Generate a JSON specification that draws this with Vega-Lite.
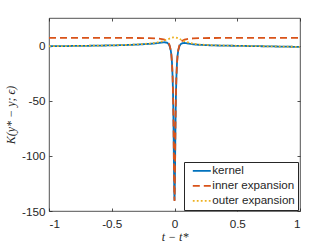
{
  "$schema": "https://vega.github.io/schema/vega-lite/v6.json",
  "width": 251,
  "height": 193,
  "autosize": {"type": "none"},
  "padding": {"left": 49, "top": 18, "right": 32, "bottom": 38},
  "background": "white",
  "config": {
    "font": "Liberation Sans",
    "view": {"stroke": "#262626", "strokeWidth": 0.8},
    "axis": {
      "domain": false,
      "grid": false,
      "tickColor": "#262626",
      "tickSize": -3,
      "tickWidth": 0.8,
      "labelColor": "#262626",
      "labelFontSize": 11.7,
      "labelFont": "Liberation Sans",
      "titleFont": "Liberation Serif",
      "titleFontStyle": "italic",
      "titleFontWeight": "normal",
      "titleFontSize": 12,
      "titleColor": "#262626"
    },
    "legend": {
      "orient": "none",
      "legendX": 135,
      "legendY": 144,
      "strokeColor": "#262626",
      "fillColor": "white",
      "padding": 3,
      "rowPadding": 2,
      "labelFontSize": 11.6,
      "labelColor": "#262626",
      "labelFont": "Liberation Sans",
      "symbolType": "M0,0H6",
      "symbolSize": 36,
      "symbolStrokeWidth": 1.8,
      "labelOffset": 13.7,
      "title": null
    }
  },
  "data": {
    "values": [
      {"t": -1, "y": -0.61, "s": "kernel"},
      {"t": -0.9, "y": -0.51, "s": "kernel"},
      {"t": -0.8, "y": -0.32, "s": "kernel"},
      {"t": -0.7, "y": -0.22, "s": "kernel"},
      {"t": -0.6, "y": -0.03, "s": "kernel"},
      {"t": -0.5, "y": 0.16, "s": "kernel"},
      {"t": -0.4, "y": 0.43, "s": "kernel"},
      {"t": -0.3, "y": 0.88, "s": "kernel"},
      {"t": -0.2, "y": 1.53, "s": "kernel"},
      {"t": -0.15, "y": 2.03, "s": "kernel"},
      {"t": -0.1, "y": 2.8, "s": "kernel"},
      {"t": -0.08, "y": 3.0, "s": "kernel"},
      {"t": -0.06, "y": 2.6, "s": "kernel"},
      {"t": -0.05, "y": 1.74, "s": "kernel"},
      {"t": -0.04, "y": -0.09, "s": "kernel"},
      {"t": -0.03, "y": -4.3, "s": "kernel"},
      {"t": -0.025, "y": -8.4, "s": "kernel"},
      {"t": -0.02, "y": -15.5, "s": "kernel"},
      {"t": -0.015, "y": -28.75, "s": "kernel"},
      {"t": -0.012, "y": -42.1, "s": "kernel"},
      {"t": -0.01, "y": -54.75, "s": "kernel"},
      {"t": -0.008, "y": -71.0, "s": "kernel"},
      {"t": -0.006, "y": -91.25, "s": "kernel"},
      {"t": -0.004, "y": -113.7, "s": "kernel"},
      {"t": -0.002, "y": -132.7, "s": "kernel"},
      {"t": 0, "y": -140.5, "s": "kernel"},
      {"t": 0.002, "y": -132.7, "s": "kernel"},
      {"t": 0.004, "y": -113.7, "s": "kernel"},
      {"t": 0.006, "y": -91.3, "s": "kernel"},
      {"t": 0.008, "y": -71.0, "s": "kernel"},
      {"t": 0.01, "y": -54.8, "s": "kernel"},
      {"t": 0.012, "y": -42.2, "s": "kernel"},
      {"t": 0.015, "y": -28.9, "s": "kernel"},
      {"t": 0.02, "y": -15.55, "s": "kernel"},
      {"t": 0.025, "y": -8.5, "s": "kernel"},
      {"t": 0.03, "y": -4.4, "s": "kernel"},
      {"t": 0.04, "y": -0.29, "s": "kernel"},
      {"t": 0.05, "y": 1.34, "s": "kernel"},
      {"t": 0.06, "y": 2.09, "s": "kernel"},
      {"t": 0.08, "y": 2.35, "s": "kernel"},
      {"t": 0.1, "y": 2.04, "s": "kernel"},
      {"t": 0.15, "y": 1.13, "s": "kernel"},
      {"t": 0.2, "y": 0.63, "s": "kernel"},
      {"t": 0.3, "y": 0.18, "s": "kernel"},
      {"t": 0.4, "y": -0.07, "s": "kernel"},
      {"t": 0.5, "y": -0.24, "s": "kernel"},
      {"t": 0.6, "y": -0.43, "s": "kernel"},
      {"t": 0.7, "y": -0.62, "s": "kernel"},
      {"t": 0.8, "y": -0.82, "s": "kernel"},
      {"t": 0.9, "y": -1.01, "s": "kernel"},
      {"t": 1, "y": -1.21, "s": "kernel"},

      {"t": -1, "y": 6.99, "s": "inner expansion"},
      {"t": -0.8, "y": 6.98, "s": "inner expansion"},
      {"t": -0.6, "y": 6.97, "s": "inner expansion"},
      {"t": -0.4, "y": 6.93, "s": "inner expansion"},
      {"t": -0.3, "y": 6.88, "s": "inner expansion"},
      {"t": -0.2, "y": 6.73, "s": "inner expansion"},
      {"t": -0.15, "y": 6.53, "s": "inner expansion"},
      {"t": -0.1, "y": 5.94, "s": "inner expansion"},
      {"t": -0.08, "y": 5.35, "s": "inner expansion"},
      {"t": -0.06, "y": 4.09, "s": "inner expansion"},
      {"t": -0.05, "y": 2.84, "s": "inner expansion"},
      {"t": -0.04, "y": 0.61, "s": "inner expansion"},
      {"t": -0.03, "y": -4.0, "s": "inner expansion"},
      {"t": -0.025, "y": -8.3, "s": "inner expansion"},
      {"t": -0.02, "y": -15.6, "s": "inner expansion"},
      {"t": -0.015, "y": -29.0, "s": "inner expansion"},
      {"t": -0.012, "y": -42.4, "s": "inner expansion"},
      {"t": -0.01, "y": -55.1, "s": "inner expansion"},
      {"t": -0.008, "y": -71.4, "s": "inner expansion"},
      {"t": -0.006, "y": -91.7, "s": "inner expansion"},
      {"t": -0.004, "y": -114.2, "s": "inner expansion"},
      {"t": -0.002, "y": -133.2, "s": "inner expansion"},
      {"t": 0, "y": -141, "s": "inner expansion"},
      {"t": 0.002, "y": -133.2, "s": "inner expansion"},
      {"t": 0.004, "y": -114.2, "s": "inner expansion"},
      {"t": 0.006, "y": -91.7, "s": "inner expansion"},
      {"t": 0.008, "y": -71.4, "s": "inner expansion"},
      {"t": 0.01, "y": -55.1, "s": "inner expansion"},
      {"t": 0.012, "y": -42.4, "s": "inner expansion"},
      {"t": 0.015, "y": -29.0, "s": "inner expansion"},
      {"t": 0.02, "y": -15.6, "s": "inner expansion"},
      {"t": 0.025, "y": -8.3, "s": "inner expansion"},
      {"t": 0.03, "y": -4.0, "s": "inner expansion"},
      {"t": 0.04, "y": 0.61, "s": "inner expansion"},
      {"t": 0.05, "y": 2.84, "s": "inner expansion"},
      {"t": 0.06, "y": 4.09, "s": "inner expansion"},
      {"t": 0.08, "y": 5.35, "s": "inner expansion"},
      {"t": 0.1, "y": 5.94, "s": "inner expansion"},
      {"t": 0.15, "y": 6.53, "s": "inner expansion"},
      {"t": 0.2, "y": 6.73, "s": "inner expansion"},
      {"t": 0.3, "y": 6.88, "s": "inner expansion"},
      {"t": 0.4, "y": 6.93, "s": "inner expansion"},
      {"t": 0.6, "y": 6.97, "s": "inner expansion"},
      {"t": 0.8, "y": 6.98, "s": "inner expansion"},
      {"t": 1, "y": 6.99, "s": "inner expansion"},

      {"t": -1, "y": -0.6, "s": "outer expansion"},
      {"t": -0.9, "y": -0.5, "s": "outer expansion"},
      {"t": -0.8, "y": -0.3, "s": "outer expansion"},
      {"t": -0.7, "y": -0.2, "s": "outer expansion"},
      {"t": -0.6, "y": 0.0, "s": "outer expansion"},
      {"t": -0.5, "y": 0.2, "s": "outer expansion"},
      {"t": -0.4, "y": 0.5, "s": "outer expansion"},
      {"t": -0.3, "y": 1.0, "s": "outer expansion"},
      {"t": -0.2, "y": 1.8, "s": "outer expansion"},
      {"t": -0.15, "y": 2.5, "s": "outer expansion"},
      {"t": -0.1, "y": 3.86, "s": "outer expansion"},
      {"t": -0.08, "y": 4.65, "s": "outer expansion"},
      {"t": -0.06, "y": 5.5, "s": "outer expansion"},
      {"t": -0.05, "y": 5.9, "s": "outer expansion"},
      {"t": -0.04, "y": 6.3, "s": "outer expansion"},
      {"t": -0.03, "y": 6.7, "s": "outer expansion"},
      {"t": -0.02, "y": 7.1, "s": "outer expansion"},
      {"t": -0.01, "y": 7.35, "s": "outer expansion"},
      {"t": 0, "y": 7.5, "s": "outer expansion"},
      {"t": 0.01, "y": 7.35, "s": "outer expansion"},
      {"t": 0.02, "y": 7.05, "s": "outer expansion"},
      {"t": 0.03, "y": 6.6, "s": "outer expansion"},
      {"t": 0.04, "y": 6.1, "s": "outer expansion"},
      {"t": 0.05, "y": 5.5, "s": "outer expansion"},
      {"t": 0.06, "y": 5.0, "s": "outer expansion"},
      {"t": 0.08, "y": 4.0, "s": "outer expansion"},
      {"t": 0.1, "y": 3.1, "s": "outer expansion"},
      {"t": 0.15, "y": 1.6, "s": "outer expansion"},
      {"t": 0.2, "y": 0.9, "s": "outer expansion"},
      {"t": 0.3, "y": 0.3, "s": "outer expansion"},
      {"t": 0.4, "y": 0.0, "s": "outer expansion"},
      {"t": 0.5, "y": -0.2, "s": "outer expansion"},
      {"t": 0.6, "y": -0.4, "s": "outer expansion"},
      {"t": 0.7, "y": -0.6, "s": "outer expansion"},
      {"t": 0.8, "y": -0.8, "s": "outer expansion"},
      {"t": 0.9, "y": -1.0, "s": "outer expansion"},
      {"t": 1, "y": -1.2, "s": "outer expansion"}
    ]
  },
  "layer": [
    {
      "mark": {"type": "line", "strokeWidth": 1.8, "clip": true},
      "encoding": {
        "x": {
          "field": "t", "type": "quantitative",
          "scale": {"domain": [-1, 1], "nice": false, "zero": false},
          "axis": {"values": [-1, -0.5, 0, 0.5, 1], "title": "t − t*", "labelPadding": 10, "titlePadding": 2,
            "labelExpr": "datum.value < 0 ? '-' + format(-datum.value, '') : format(datum.value, '')"}
        },
        "y": {
          "field": "y", "type": "quantitative",
          "scale": {"domain": [-150, 25], "nice": false, "zero": false},
          "axis": {"values": [-150, -100, -50, 0], "title": "K(y* − y; ϵ)", "labelPadding": 7, "titlePadding": 4,
            "labelExpr": "datum.value < 0 ? '-' + format(-datum.value, '') : format(datum.value, '')"}
        },
        "color": {
          "field": "s", "type": "nominal",
          "scale": {"domain": ["kernel", "inner expansion", "outer expansion"], "range": ["#0072BD", "#D95319", "#EDB120"]},
          "legend": {}
        },
        "strokeDash": {
          "field": "s", "type": "nominal",
          "scale": {"domain": ["kernel", "inner expansion", "outer expansion"], "range": [[1, 0], [7, 4], [1.8, 2.2]]},
          "legend": {}
        },
        "order": {"field": "t", "type": "quantitative"}
      }
    },
    {
      "mark": {"type": "line", "opacity": 0},
      "encoding": {
        "x": {"field": "t", "type": "quantitative", "axis": {"orient": "top", "values": [-1, -0.5, 0, 0.5, 1], "labels": false, "title": null}},
        "y": {"field": "y", "type": "quantitative", "axis": {"orient": "right", "values": [-150, -100, -50, 0], "labels": false, "title": null}},
        "detail": {"field": "s", "type": "nominal"}
      }
    }
  ],
  "resolve": {"axis": {"x": "independent", "y": "independent"}}
}
